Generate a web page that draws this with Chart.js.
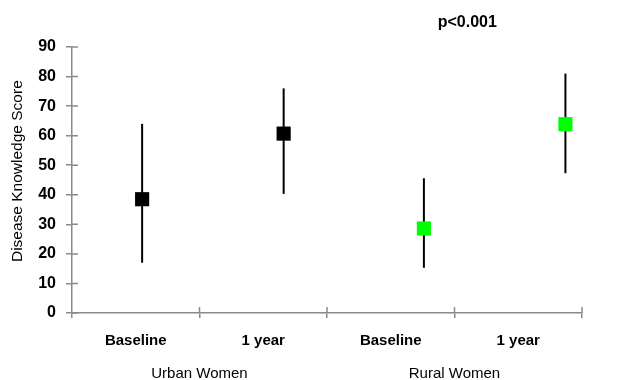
<!DOCTYPE html>
<html>
<head>
<meta charset="utf-8">
<script src="https://cdn.jsdelivr.net/npm/chart.js@4"></script>
<style>
  html, body { margin: 0; padding: 0; background: #fff; }
  #wrap { width: 637px; height: 380px; }
</style>
</head>
<body>
<div id="wrap"><canvas id="chart"></canvas></div>
<script>
// Values
const phaseLabels = ['Baseline', '1 year', 'Baseline', '1 year'];
const groupLabels = ['Urban Women', 'Rural Women'];
const xPos = [0.55, 1.66, 2.76, 3.87];      // where each marker sits along the x axis (category units)
const meanScore = [38.5, 60.7, 28.6, 63.9];
const lowScore = [17, 40.3, 15.3, 47.3];
const highScore = [64, 76, 45.6, 81];
const markerColors = ['#000000', '#000000', '#00ff00', '#00ff00'];
const yTicks = [0, 90, 10];                 // min, max, step
const yTitle = 'Disease Knowledge Score';
const pText = 'p<0.001';

const FONT = 'Liberation Sans, Arial, sans-serif';
const AXIS = '#8a8a8a';

// error bars: one small line dataset per point
const errorBars = xPos.map((x, i) => ({
    type: 'line',
    data: [{ x: x, y: lowScore[i] }, { x: x, y: highScore[i] }],
    borderColor: '#000',
    borderWidth: 2,
    pointRadius: 0,
    xAxisID: 'xp',
    yAxisID: 'y',
    order: 2
}));

// tick marks that cross the axes, the y title and the p value text
const extras = {
    id: 'extras',
    afterDraw(chart) {
        const ctx = chart.ctx;
        const y = chart.scales.y, xp = chart.scales.xp;
        const area = chart.chartArea;
        ctx.save();
        ctx.strokeStyle = AXIS;
        ctx.lineWidth = 1.5;
        ctx.beginPath();
        y.ticks.forEach(t => {
            const py = y.getPixelForValue(t.value);
            ctx.moveTo(area.left, py);
            ctx.lineTo(area.left + 6, py);
        });
        for (let i = 1; i <= phaseLabels.length; i++) {
            const px = xp.getPixelForValue(i);
            ctx.moveTo(px, area.bottom);
            ctx.lineTo(px, area.bottom - 6);
        }
        ctx.stroke();

        ctx.fillStyle = '#000';
        ctx.textAlign = 'center';
        ctx.textBaseline = 'middle';
        ctx.font = 'bold 16px ' + FONT;
        ctx.fillText(pText, xp.getPixelForValue(3.1), area.top - 24);

        ctx.translate(18, y.getPixelForValue(48));
        ctx.rotate(-Math.PI / 2);
        ctx.font = '15.5px ' + FONT;
        ctx.fillText(yTitle, 0, 0);
        ctx.restore();
    }
};

new Chart(document.getElementById('chart'), {
    type: 'scatter',
    data: {
        datasets: [{
            type: 'scatter',
            data: xPos.map((x, i) => ({ x: x, y: meanScore[i] })),
            pointStyle: 'rect',
            pointRadius: 10,
            pointHoverRadius: 10,
            backgroundColor: markerColors,
            borderWidth: 0,
            xAxisID: 'xp',
            yAxisID: 'y',
            order: 1
        }, ...errorBars]
    },
    options: {
        responsive: true,
        maintainAspectRatio: false,
        animation: false,
        layout: { padding: { top: 47, right: 55, left: 0, bottom: 0 } },
        plugins: {
            legend: { display: false },
            tooltip: { enabled: false }
        },
        scales: {
            xp: {
                type: 'linear',
                display: false,
                min: 0,
                max: 4
            },
            x: {
                type: 'category',
                position: 'bottom',
                labels: phaseLabels,
                offset: true,
                weight: 0,
                afterFit: s => { s.height = 37; },
                grid: {
                    offset: true,
                    drawOnChartArea: false,
                    tickLength: 5,
                    color: AXIS,
                    lineWidth: 1.5
                },
                border: { color: AXIS, width: 1.5 },
                ticks: {
                    color: '#000',
                    padding: 14,
                    maxRotation: 0,
                    font: { family: FONT, size: 15, weight: 'bold' }
                }
            },
            group: {
                type: 'category',
                position: 'bottom',
                labels: groupLabels,
                offset: true,
                weight: 1,
                afterFit: s => { s.height = 30; },
                grid: { display: false },
                border: { display: false },
                ticks: {
                    color: '#000',
                    padding: 7,
                    maxRotation: 0,
                    font: { family: FONT, size: 15 }
                }
            },
            y: {
                type: 'linear',
                position: 'left',
                min: yTicks[0],
                max: yTicks[1],
                afterFit: s => { s.width = 72; },
                grid: {
                    drawOnChartArea: false,
                    tickLength: 6,
                    color: AXIS,
                    lineWidth: 1.5
                },
                border: { color: AXIS, width: 1.5 },
                ticks: {
                    stepSize: yTicks[2],
                    color: '#000',
                    padding: 10,
                    font: { family: FONT, size: 16, weight: 'bold' }
                }
            }
        }
    },
    plugins: [extras]
});
</script>
</body>
</html>
